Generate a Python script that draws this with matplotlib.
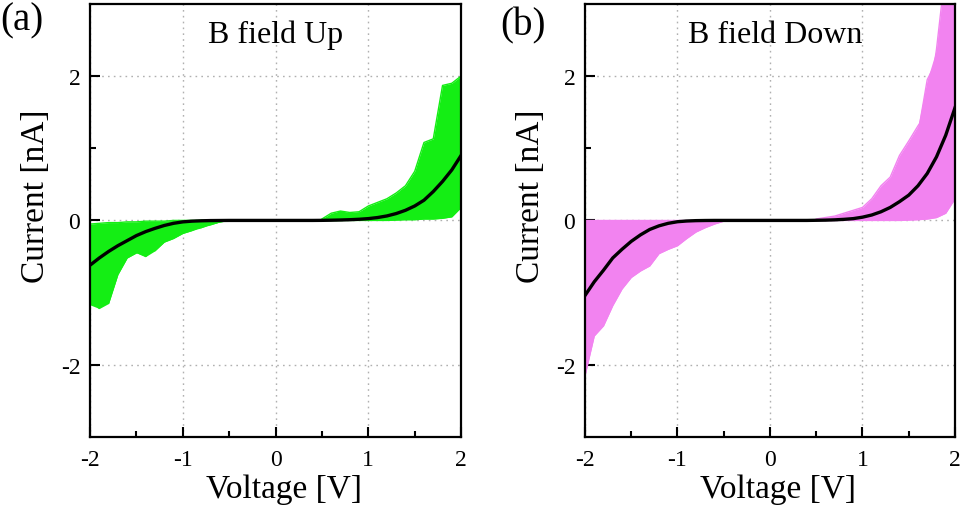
import numpy as np
import matplotlib
matplotlib.use("Agg")
import matplotlib.pyplot as plt

plt.rcParams['font.family'] = ['Liberation Serif', 'DejaVu Serif']

# ---------------- data ----------------
V_neg = [-2.0, -1.9, -1.8, -1.7, -1.6, -1.5, -1.4, -1.3, -1.2, -1.1, -1.0, -0.9, -0.8, -0.7, -0.6, -0.5]
V_mid = [-0.4, -0.3, -0.2, -0.1, 0.0, 0.1, 0.2, 0.3, 0.4]
V_pos = [0.5, 0.6, 0.7, 0.8, 0.9, 1.0, 1.1, 1.2, 1.3, 1.4, 1.5, 1.6, 1.7, 1.8, 1.9, 2.0]
I_mid = [0, 0, 0, 0, 0, 0, 0, 0, 0]

# Panel (a): B field Up
up_neg_traces = [
    [-0.05, -0.04, -0.03, -0.03, -0.02, -0.02, -0.01, -0.01, -0.01, 0, 0, 0, 0, 0, 0, 0],
    [-0.25, -0.20, -0.17, -0.13, -0.10, -0.08, -0.06, -0.04, -0.03, -0.02, -0.01, -0.005, 0, 0, 0, 0],
    [-0.45, -0.38, -0.30, -0.26, -0.20, -0.15, -0.11, -0.08, -0.05, -0.03, -0.02, -0.01, -0.005, 0, 0, 0],
    [-0.62, -0.55, -0.45, -0.38, -0.30, -0.22, -0.17, -0.12, -0.08, -0.05, -0.03, -0.015, -0.01, 0, 0, 0],
    [-0.80, -0.68, -0.60, -0.50, -0.40, -0.35, -0.28, -0.20, -0.14, -0.10, -0.06, -0.03, -0.015, -0.005, 0, 0],
    [-0.95, -0.85, -0.70, -0.55, -0.48, -0.40, -0.33, -0.30, -0.22, -0.15, -0.10, -0.06, -0.03, -0.01, 0, 0],
    [-1.10, -1.22, -0.65, -0.60, -0.50, -0.44, -0.50, -0.35, -0.28, -0.22, -0.17, -0.12, -0.10, -0.05, -0.02, 0],
    [-1.17, -1.00, -1.15, -0.75, -0.52, -0.45, -0.40, -0.42, -0.30, -0.25, -0.18, -0.14, -0.08, -0.06, -0.02, 0],
]
up_pos_traces = [
    [0, 0, 0, 0, 0, 0, 0, 0, 0.005, 0.01, 0.01, 0.02, 0.02, 0.03, 0.05, 0.18],
    [0, 0, 0, 0.005, 0.01, 0.01, 0.015, 0.02, 0.03, 0.05, 0.07, 0.10, 0.15, 0.20, 0.28, 0.35],
    [0, 0.002, 0.004, 0.008, 0.012, 0.02, 0.03, 0.04, 0.06, 0.09, 0.13, 0.20, 0.28, 0.38, 0.50, 0.62],
    [0.001, 0.003, 0.006, 0.01, 0.016, 0.025, 0.04, 0.06, 0.095, 0.14, 0.20, 0.28, 0.40, 0.54, 0.70, 0.90],
    [0.002, 0.005, 0.01, 0.02, 0.03, 0.045, 0.07, 0.10, 0.14, 0.20, 0.28, 0.40, 0.55, 0.72, 0.95, 1.20],
    [0.005, 0.01, 0.03, 0.04, 0.05, 0.08, 0.11, 0.16, 0.22, 0.30, 0.42, 0.60, 0.80, 0.95, 1.30, 1.55],
    [0.01, 0.05, 0.12, 0.08, 0.10, 0.14, 0.18, 0.22, 0.30, 0.42, 0.60, 0.90, 1.05, 1.10, 1.50, 1.80],
    [0.02, 0.10, 0.13, 0.11, 0.12, 0.20, 0.25, 0.30, 0.38, 0.48, 0.68, 1.08, 1.13, 1.87, 1.90, 2.00],
]
up_mean_neg = [-0.62, -0.52, -0.43, -0.35, -0.28, -0.21, -0.155, -0.11, -0.07, -0.04, -0.02, -0.01, -0.005, -0.002, -0.001, 0]
up_mean_pos = [0.001, 0.003, 0.006, 0.01, 0.016, 0.025, 0.04, 0.062, 0.095, 0.14, 0.20, 0.28, 0.40, 0.54, 0.70, 0.90]

# Panel (b): B field Down
down_neg_traces = [
    [0, 0, 0, 0, 0, 0, 0, 0, 0, 0, 0, 0, 0, 0, 0, 0],
    [-0.30, -0.25, -0.20, -0.15, -0.12, -0.09, -0.07, -0.05, -0.03, -0.02, -0.01, -0.005, 0, 0, 0, 0],
    [-0.70, -0.58, -0.45, -0.35, -0.27, -0.20, -0.14, -0.09, -0.06, -0.035, -0.02, -0.01, -0.004, 0, 0, 0],
    [-1.04, -0.85, -0.69, -0.52, -0.40, -0.29, -0.20, -0.125, -0.075, -0.04, -0.018, -0.008, -0.003, -0.001, 0, 0],
    [-1.30, -1.10, -0.90, -0.72, -0.58, -0.45, -0.34, -0.25, -0.18, -0.12, -0.08, -0.05, -0.03, -0.01, 0, 0],
    [-1.60, -1.30, -1.05, -0.90, -0.75, -0.60, -0.45, -0.38, -0.30, -0.22, -0.15, -0.10, -0.06, -0.03, -0.01, 0],
    [-1.90, -1.50, -1.25, -1.10, -0.90, -0.75, -0.62, -0.55, -0.42, -0.32, -0.28, -0.20, -0.12, -0.06, -0.02, 0],
    [-2.15, -1.60, -1.46, -1.18, -0.95, -0.79, -0.70, -0.63, -0.46, -0.40, -0.35, -0.25, -0.16, -0.10, -0.05, -0.01],
]
down_pos_traces = [
    [0, 0, 0, 0, 0, 0, 0, 0, 0, 0, 0.005, 0.01, 0.02, 0.04, 0.10, 0.30],
    [0, 0, 0, 0.005, 0.01, 0.015, 0.025, 0.04, 0.06, 0.09, 0.13, 0.20, 0.30, 0.42, 0.60, 0.80],
    [0.001, 0.002, 0.005, 0.01, 0.018, 0.03, 0.05, 0.08, 0.12, 0.18, 0.26, 0.36, 0.50, 0.68, 0.90, 1.20],
    [0.002, 0.004, 0.008, 0.015, 0.025, 0.045, 0.075, 0.12, 0.18, 0.26, 0.35, 0.48, 0.65, 0.88, 1.18, 1.56],
    [0.003, 0.006, 0.012, 0.022, 0.04, 0.07, 0.11, 0.17, 0.26, 0.38, 0.52, 0.72, 0.98, 1.30, 1.75, 2.30],
    [0.005, 0.01, 0.02, 0.035, 0.06, 0.10, 0.16, 0.25, 0.38, 0.55, 0.75, 1.00, 1.35, 1.80, 2.50, 3.20],
    [0.01, 0.02, 0.04, 0.06, 0.10, 0.15, 0.22, 0.35, 0.48, 0.70, 0.90, 1.20, 1.95, 2.20, 3.30, 3.50],
    [0.02, 0.04, 0.06, 0.10, 0.14, 0.18, 0.30, 0.48, 0.60, 0.90, 1.10, 1.31, 1.50, 2.37, 3.50, 3.50],
]
down_mean_neg = [-1.04, -0.85, -0.69, -0.52, -0.40, -0.29, -0.20, -0.125, -0.075, -0.04, -0.018, -0.008, -0.003, -0.001, 0, 0]
down_mean_pos = [0.002, 0.004, 0.008, 0.015, 0.025, 0.045, 0.075, 0.12, 0.18, 0.26, 0.35, 0.48, 0.65, 0.88, 1.18, 1.56]

panel_labels = ["(a)", "(b)"]
titles = ["B field Up", "B field Down"]
colors = ["#14ee14", "#f283f0"]
x_ticks = [-2, -1, 0, 1, 2]
y_ticks = [-2, 0, 2]

# ---------------- plot ----------------
fig = plt.figure(figsize=(9.62, 5.06), dpi=100)
ax_a = fig.add_axes([0.0936, 0.1344, 0.3857, 0.856])
ax_b = fig.add_axes([0.6081, 0.1344, 0.3846, 0.856])

panels = [
    (ax_a, up_neg_traces, up_pos_traces, up_mean_neg, up_mean_pos),
    (ax_b, down_neg_traces, down_pos_traces, down_mean_neg, down_mean_pos),
]

for k, (ax, neg_tr, pos_tr, mneg, mpos) in enumerate(panels):
    c = colors[k]
    for V, tr in ((V_neg, neg_tr), (V_pos, pos_tr)):
        arr = np.sort(np.array(tr, dtype=float), axis=0)
        ax.fill_between(V, arr[0], arr[-1], color=c, lw=0, zorder=2)
        for t in tr:
            ax.plot(V, t, color=c, lw=1.0, zorder=2)
    ax.plot(V_mid, I_mid, color=c, lw=1.0, zorder=2)
    V_all = V_neg + V_mid + V_pos
    I_all = list(mneg) + I_mid + list(mpos)
    ax.plot(V_all, I_all, color="black", lw=2.4, zorder=3)

    ax.set_xlim(-2, 2)
    ax.set_ylim(-3, 3)
    ax.set_xticks(x_ticks)
    ax.set_xticklabels([str(v) for v in x_ticks])
    ax.set_yticks(y_ticks)
    ax.set_yticklabels([str(v) for v in y_ticks])
    ax.set_xticks([-1.5, -0.5, 0.5, 1.5], minor=True)
    ax.set_yticks([-1, 1], minor=True)
    ax.tick_params(which="major", direction="in", length=7, width=1.5, labelsize=17, pad=7)
    ax.tick_params(axis="x", which="major", pad=9)
    ax.tick_params(which="minor", direction="in", length=4, width=1.5)
    ax.grid(True, which="major", color="#b0b0b0", linestyle=(0, (1.2, 3)), lw=1.0, zorder=1)
    for s in ax.spines.values():
        s.set_linewidth(1.6)
        s.set_zorder(5)
    ax.set_xlabel("Voltage [V]", fontsize=24)
    ax.set_ylabel("Current [nA]", fontsize=24)
    ax.xaxis.set_label_coords(0.523, -0.085)
    ax.yaxis.set_label_coords(-0.105, 0.558)
    ax.text(0.5 + 0.015 * k, 0.93, titles[k], transform=ax.transAxes, ha="center", va="center", fontsize=23)

fig.text(0.0, 0.995, panel_labels[0], ha="left", va="top", fontsize=28)
fig.text(0.52, 0.985, panel_labels[1], ha="left", va="top", fontsize=28)

fig.savefig("out.png", dpi=100)
